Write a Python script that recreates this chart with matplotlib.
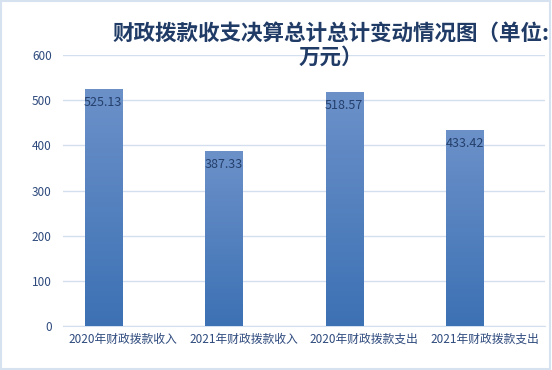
import matplotlib.pyplot as plt
import numpy as np
from matplotlib.colors import LinearSegmentedColormap
from matplotlib.patches import Rectangle

plt.rcParams['font.family'] = ['Noto Sans CJK SC', 'DejaVu Sans']

categories = ['2020年财政拨款收入', '2021年财政拨款收入', '2020年财政拨款支出', '2021年财政拨款支出']
values = [525.13, 387.33, 518.57, 433.42]
yticks = [0, 100, 200, 300, 400, 500, 600]

text_color = '#2E4A7D'
fig = plt.figure(figsize=(5.52, 3.70), dpi=100)
ax = fig.add_axes([0.114, 0.119, 0.873, 0.732])

x = np.arange(len(categories))
bar_w = 0.31
offset = -0.165  # bars sit left of the category centre, as in the original
cmap = LinearSegmentedColormap.from_list('bar', ['#3C71B4', '#6C91C9'])
grad = np.linspace(0, 1, 256).reshape(-1, 1)

bars = ax.bar(x + offset, values, width=bar_w, color='none', zorder=3)
for b, v in zip(bars, values):
    x0 = b.get_x()
    im = ax.imshow(grad, cmap=cmap, origin='lower', aspect='auto',
                   extent=[x0, x0 + bar_w, 0, v], zorder=3)
    im.set_clip_path(b)
    ax.text(x0 + bar_w / 2, v - 30, f'{v:.2f}', ha='center', va='center',
            fontsize=9, color='#243F6B', zorder=4)

ax.set_xlim(-0.5, len(categories) - 0.5)
ax.set_ylim(0, 600)
ax.set_yticks(yticks)
ax.set_xticks(x)
ax.set_xticklabels(categories, fontsize=8.5, color=text_color)
ax.tick_params(axis='y', labelsize=8.5, labelcolor=text_color, length=0, pad=8)
ax.tick_params(axis='x', length=0, pad=5)
ax.grid(axis='y', color='#D3DFEE', linewidth=1.0, zorder=0)
ax.set_axisbelow(True)
for s in ['top', 'right', 'left']:
    ax.spines[s].set_visible(False)
ax.spines['bottom'].set_color('#D3DFEE')

fig.text(331 / 552, 1 - 45 / 370, '财政拨款收支决算总计总计变动情况图（单位:\n万元）',
         ha='center', va='center', fontsize=15.5, fontweight='bold',
         color='#1F3B66', linespacing=1.15, zorder=5)

fig.patches.append(Rectangle((0.002, 0.003), 0.995, 0.994, transform=fig.transFigure,
                             fill=False, edgecolor='#D6E2F0', linewidth=1.5))

plt.savefig('out.png', dpi=100)
